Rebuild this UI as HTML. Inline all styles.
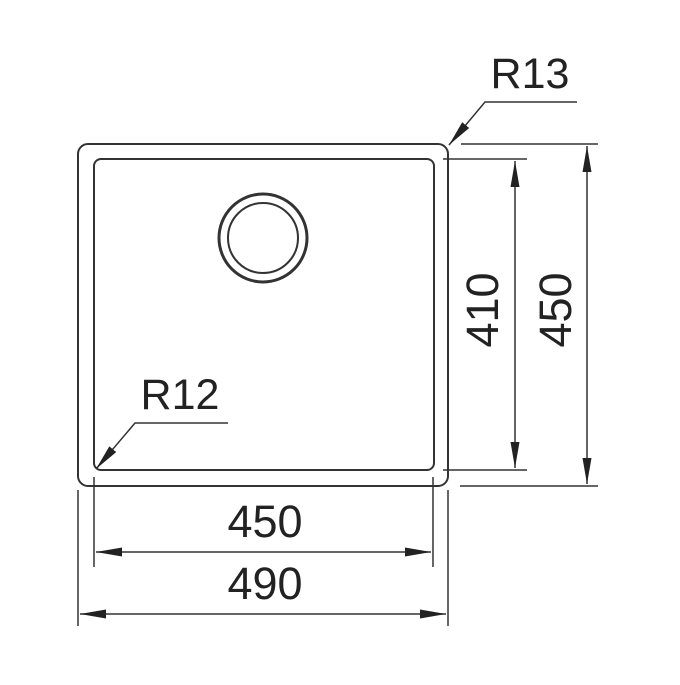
<!DOCTYPE html>
<html><head><style>html,body{margin:0;padding:0;background:#fff}</style></head><body>
<svg width="680" height="680" viewBox="0 0 680 680" xmlns="http://www.w3.org/2000/svg">
<defs>
<marker id="a" viewBox="0 0 10 10" refX="10" refY="5" markerWidth="10" markerHeight="8" markerUnits="userSpaceOnUse" orient="auto-start-reverse" preserveAspectRatio="none">
<path d="M0,0 L10,5 L0,10 z" fill="#222"/></marker>
<marker id="b" viewBox="0 0 10 10" refX="10" refY="5" markerWidth="26" markerHeight="9" markerUnits="userSpaceOnUse" orient="auto-start-reverse" preserveAspectRatio="none">
<path d="M0,0 L10,5 L0,10 z" fill="#222"/></marker>
</defs>
<g fill="none" stroke="#333" stroke-width="2">
<rect x="78" y="144" width="370" height="342" rx="10"/>
<rect x="94" y="159" width="340" height="311" rx="7"/>
<circle cx="263" cy="238" r="44" stroke-width="3"/>
<circle cx="263" cy="238" r="35"/>
</g>
<g stroke="#333" stroke-width="1.5" fill="none">
<line x1="94" y1="477" x2="94" y2="567"/>
<line x1="433" y1="477" x2="433" y2="567"/>
<line x1="78" y1="490" x2="78" y2="626"/>
<line x1="448" y1="490" x2="448" y2="626"/>
<line x1="96" y1="552" x2="431" y2="552" marker-start="url(#b)" marker-end="url(#b)"/>
<line x1="80" y1="614" x2="446" y2="614" marker-start="url(#b)" marker-end="url(#b)"/>
<line x1="443" y1="159" x2="527" y2="159"/>
<line x1="443" y1="470" x2="527" y2="470"/>
<line x1="461" y1="144" x2="598" y2="144"/>
<line x1="460" y1="486" x2="598" y2="486"/>
<line x1="515" y1="161" x2="515" y2="468" marker-start="url(#b)" marker-end="url(#b)"/>
<line x1="587" y1="146" x2="587" y2="484" marker-start="url(#b)" marker-end="url(#b)"/>
<polyline points="577,102 485,102 449,145" marker-end="url(#b)"/>
<polyline points="228,423 135,423 96,469" marker-end="url(#b)"/>
</g>
<g font-family="Liberation Sans, sans-serif" font-size="45" fill="#222" text-anchor="middle">
<text x="265" y="537">450</text>
<text x="265" y="599">490</text>
<text x="530" y="88" font-size="43">R13</text>
<text x="180" y="409" font-size="43">R12</text>
<text transform="translate(498,310) rotate(-90)">410</text>
<text transform="translate(571,310) rotate(-90)">450</text>
</g>
</svg>
</body></html>
